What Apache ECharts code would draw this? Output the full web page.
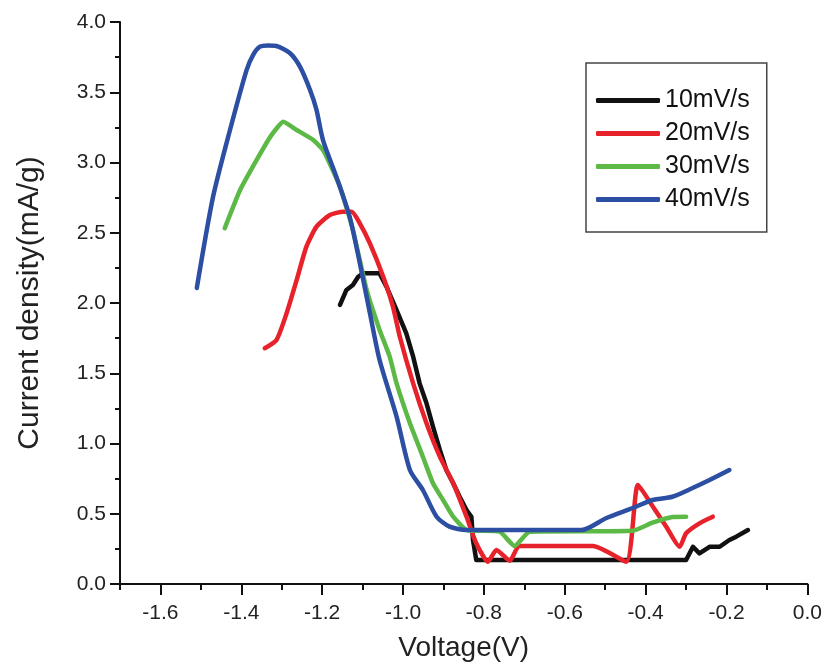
<!DOCTYPE html>
<html>
<head>
<meta charset="utf-8">
<script src="https://cdn.jsdelivr.net/npm/echarts@6/dist/echarts.min.js"></script>
<style>
  html, body { margin: 0; padding: 0; background: #fff; }
  #chart { width: 825px; height: 668px; }
</style>
</head>
<body>
<div id="chart"></div>
<script>
// scan rates
const seriesNames = ['10mV/s', '20mV/s', '30mV/s', '40mV/s'];

// 10mV/s
const v10 = [-1.156, -1.140, -1.124, -1.111, -1.099, -1.058, -1.041, -1.016, -0.992, -0.975, -0.959, -0.942, -0.926, -0.909, -0.893, -0.876, -0.860, -0.843, -0.831, -0.827, -0.819, -0.300, -0.283, -0.267, -0.242, -0.217, -0.193, -0.176, -0.147];
const j10 = [1.986, 2.093, 2.128, 2.187, 2.211, 2.211, 2.116, 1.950, 1.784, 1.618, 1.428, 1.286, 1.120, 0.954, 0.811, 0.717, 0.621, 0.527, 0.479, 0.313, 0.171, 0.171, 0.265, 0.218, 0.265, 0.265, 0.313, 0.337, 0.384];

// 20mV/s
const v20 = [-1.342, -1.313, -1.288, -1.263, -1.239, -1.214, -1.181, -1.148, -1.127, -1.107, -1.082, -1.049, -1.025, -1.008, -0.975, -0.942, -0.909, -0.876, -0.843, -0.819, -0.790, -0.769, -0.736, -0.712, -0.530, -0.448, -0.419, -0.382, -0.349, -0.316, -0.300, -0.267, -0.234];
const j20 = [1.678, 1.737, 1.927, 2.164, 2.401, 2.543, 2.626, 2.650, 2.650, 2.567, 2.425, 2.187, 1.974, 1.760, 1.428, 1.144, 0.906, 0.717, 0.479, 0.290, 0.159, 0.242, 0.166, 0.270, 0.270, 0.159, 0.705, 0.550, 0.408, 0.265, 0.361, 0.432, 0.479];

// 30mV/s
const v30 = [-1.441, -1.403, -1.362, -1.328, -1.296, -1.263, -1.222, -1.198, -1.156, -1.124, -1.090, -1.058, -1.033, -1.016, -0.983, -0.951, -0.926, -0.901, -0.876, -0.843, -0.761, -0.724, -0.687, -0.432, -0.383, -0.334, -0.300];
const j30 = [2.532, 2.804, 3.018, 3.184, 3.290, 3.231, 3.160, 3.089, 2.828, 2.520, 2.093, 1.808, 1.618, 1.428, 1.144, 0.906, 0.717, 0.598, 0.479, 0.384, 0.372, 0.270, 0.372, 0.379, 0.436, 0.477, 0.479];

// 40mV/s
const v40 = [-1.510, -1.470, -1.428, -1.387, -1.371, -1.354, -1.334, -1.313, -1.280, -1.255, -1.230, -1.214, -1.198, -1.165, -1.132, -1.107, -1.082, -1.058, -1.016, -0.983, -0.951, -0.917, -0.885, -0.843, -0.559, -0.497, -0.432, -0.383, -0.334, -0.284, -0.242, -0.193];
const j40 = [2.107, 2.754, 3.231, 3.658, 3.765, 3.824, 3.833, 3.829, 3.779, 3.682, 3.516, 3.374, 3.160, 2.899, 2.614, 2.285, 1.929, 1.594, 1.191, 0.811, 0.669, 0.479, 0.408, 0.384, 0.384, 0.470, 0.541, 0.598, 0.621, 0.683, 0.740, 0.811];

// ticks
const xMajorTicks = [-1.6, -1.4, -1.2, -1.0, -0.8, -0.6, -0.4, -0.2, 0.0];
const xMinorTicks = [-1.7, -1.5, -1.3, -1.1, -0.9, -0.7, -0.5, -0.3, -0.1];

const colors = ['#111111', '#e8222b', '#5cb946', '#2c4fa3'];
const smoothness = [0, 0.2, 0.15, 0.25];
const xs = [v10, v20, v30, v40];
const ys = [j10, j20, j30, j40];

const font = 'Liberation Sans, Arial, sans-serif';
const chart = echarts.init(document.getElementById('chart'));

const option = {
  animation: false,
  backgroundColor: '#fff',
  grid: { left: 120, right: 17, top: 22, bottom: 84 },
  legend: {
    orient: 'vertical',
    left: 586,
    top: 63,
    padding: [25, 17, 20, 10],
    borderColor: '#444',
    borderWidth: 1.5,
    borderRadius: 0,
    icon: 'roundRect',
    itemWidth: 64,
    itemHeight: 5,
    itemGap: 8,
    textStyle: { fontFamily: font, fontSize: 25, color: '#111' },
    data: seriesNames
  },
  xAxis: [
    {
      type: 'value',
      min: -1.7,
      max: 0,
      name: 'Voltage(V)',
      nameLocation: 'middle',
      nameGap: 50,
      nameTextStyle: { fontFamily: font, fontSize: 28, color: '#222' },
      axisLine: { onZero: false, lineStyle: { color: '#111', width: 2 } },
      axisTick: { show: true, inside: false, length: 11, lineStyle: { width: 2, color: '#111' }, customValues: xMajorTicks },
      axisLabel: {
        fontFamily: font, fontSize: 21, color: '#222', margin: 19,
        customValues: xMajorTicks,
        formatter: v => v.toFixed(1)
      },
      splitLine: { show: false }
    },
    {
      type: 'value',
      min: -1.7,
      max: 0,
      position: 'bottom',
      axisLine: { show: false, onZero: false },
      axisTick: { show: true, inside: false, length: 6, lineStyle: { width: 2, color: '#111' }, customValues: xMinorTicks },
      axisLabel: { show: false },
      splitLine: { show: false }
    }
  ],
  yAxis: {
    type: 'value',
    min: 0,
    max: 4,
    interval: 0.5,
    name: 'Current density(mA/g)',
    nameLocation: 'middle',
    nameGap: 75,
    nameTextStyle: { fontFamily: font, fontSize: 30, color: '#222' },
    axisLine: { show: true, onZero: false, lineStyle: { color: '#111', width: 2 } },
    axisTick: { show: true, inside: false, length: 10, lineStyle: { width: 2, color: '#111' } },
    minorTick: { show: true, splitNumber: 2, length: 5, lineStyle: { width: 2, color: '#111' } },
    axisLabel: { fontFamily: font, fontSize: 21, color: '#222', margin: 14, formatter: v => v.toFixed(1) },
    splitLine: { show: false }
  },
  series: seriesNames.map((name, i) => ({
    name: name,
    type: 'line',
    xAxisIndex: 0,
    showSymbol: false,
    symbol: 'none',
    smooth: smoothness[i],
    color: colors[i],
    lineStyle: { width: 4.5, color: colors[i], cap: 'round', join: 'round' },
    data: xs[i].map((x, k) => [x, ys[i][k]])
  }))
};

chart.setOption(option);
</script>
</body>
</html>
